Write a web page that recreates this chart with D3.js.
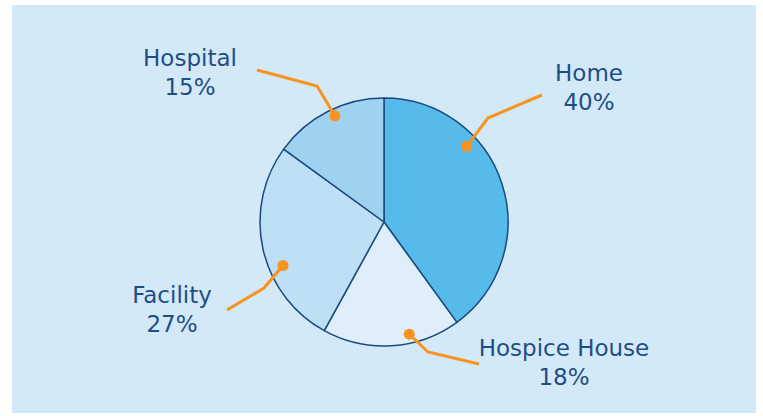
<!DOCTYPE html>
<html>
<head>
<meta charset="utf-8">
<script src="https://cdn.jsdelivr.net/npm/d3@7"></script>
<style>
  body { margin: 0; background: #ffffff; }
  text { font-family: "DejaVu Sans", Verdana, sans-serif; }
</style>
</head>
<body>
<div class="chart"></div>
<script>
// data
var places = ["Home", "Hospice House", "Facility", "Hospital"];
var shares = [40, 18, 27, 15];
var sliceColors = ["#56bbeb", "#deeefb", "#bde0f6", "#9fd2f0"];

var svgWidth = 763;
var svgHeight = 416;

var svg = d3.select(".chart")
  .append("svg")
  .attr("width", svgWidth)
  .attr("height", svgHeight);

svg.append("rect")
  .attr("x", 12)
  .attr("y", 5)
  .attr("width", 744)
  .attr("height", 408)
  .attr("fill", "#d4e9f8");

var cx = 384, cy = 222, radius = 124;

var pieGroup = svg.append("g")
  .attr("transform", `translate(${cx}, ${cy})`);

var pie = d3.pie().sort(null).value(d => d);
var arcs = pie(shares);

var arc = d3.arc().innerRadius(0).outerRadius(radius);

pieGroup.selectAll("path")
  .data(arcs)
  .enter()
  .append("path")
  .attr("d", arc)
  .attr("fill", (d, i) => sliceColors[i])
  .attr("stroke", "#1c4a7e")
  .attr("stroke-width", 1.5)
  .attr("stroke-linejoin", "round");

// callout layout: where the dot sits inside each slice, the elbow and the label
var callouts = [
  { t: 0.33, dr: 112, elbow: [488, 118], end: [542, 95], label: [589, 81] },
  { t: 0.36, dr: 115, elbow: [428, 352], end: [479, 364], label: [564, 356] },
  { t: 0.39, dr: 110, elbow: [264, 288], end: [227, 310], label: [172, 303] },
  { t: 0.54, dr: 117, elbow: [317, 86], end: [257, 70], label: [190, 66] }
];

function dotPoint(d, i) {
  var c = callouts[i];
  var a = d.startAngle + (d.endAngle - d.startAngle) * c.t;
  return [cx + Math.sin(a) * c.dr, cy - Math.cos(a) * c.dr];
}

var calloutGroup = svg.append("g");

calloutGroup.selectAll("polyline")
  .data(arcs)
  .enter()
  .append("polyline")
  .attr("points", (d, i) => [dotPoint(d, i), callouts[i].elbow, callouts[i].end].map(p => p.join(",")).join(" "))
  .attr("fill", "none")
  .attr("stroke", "#f7931e")
  .attr("stroke-width", 3);

calloutGroup.selectAll("circle")
  .data(arcs)
  .enter()
  .append("circle")
  .attr("cx", (d, i) => dotPoint(d, i)[0])
  .attr("cy", (d, i) => dotPoint(d, i)[1])
  .attr("r", 5.5)
  .attr("fill", "#f7931e");

var labels = svg.append("g").selectAll("text")
  .data(arcs)
  .enter()
  .append("text")
  .attr("x", (d, i) => callouts[i].label[0])
  .attr("y", (d, i) => callouts[i].label[1])
  .attr("text-anchor", "middle")
  .attr("font-size", "23px")
  .attr("fill", "#1f4e85");

labels.append("tspan")
  .attr("x", (d, i) => callouts[i].label[0])
  .text((d, i) => places[i]);

labels.append("tspan")
  .attr("x", (d, i) => callouts[i].label[0])
  .attr("dy", 29)
  .text(d => d.data + "%");
</script>
</body>
</html>
